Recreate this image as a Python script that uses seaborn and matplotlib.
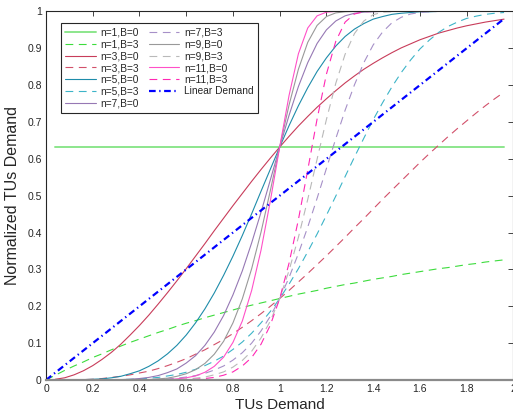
import numpy as np
import matplotlib
matplotlib.use("Agg")
import matplotlib.pyplot as plt
import seaborn as sns

nan = np.nan

# TUs demand grid (x)
x = [0.00, 0.04, 0.08, 0.12, 0.16, 0.20, 0.24, 0.28, 0.32, 0.36,
     0.40, 0.44, 0.48, 0.52, 0.56, 0.60, 0.64, 0.68, 0.72, 0.76,
     0.80, 0.84, 0.88, 0.92, 0.96, 1.00, 1.04, 1.08, 1.12, 1.16,
     1.20, 1.24, 1.28, 1.32, 1.36, 1.40, 1.44, 1.48, 1.52, 1.56,
     1.60, 1.64, 1.68, 1.72, 1.76, 1.80, 1.84, 1.88, 1.92, 1.96]

n1B0 = [nan] + [0.632] * 49
n1B3 = [0.000, 0.013, 0.026, 0.038, 0.049, 0.061, 0.071, 0.082, 0.092, 0.102,
        0.111, 0.120, 0.129, 0.137, 0.146, 0.154, 0.161, 0.169, 0.176, 0.183,
        0.190, 0.197, 0.203, 0.209, 0.215, 0.221, 0.227, 0.233, 0.238, 0.243,
        0.249, 0.254, 0.259, 0.263, 0.268, 0.273, 0.277, 0.281, 0.286, 0.290,
        0.294, 0.298, 0.302, 0.305, 0.309, 0.313, 0.316, 0.320, 0.323, 0.326]
n3B0 = [nan, 0.002, 0.006, 0.014, 0.025, 0.039, 0.056, 0.075, 0.097, 0.122,
        0.148, 0.176, 0.206, 0.237, 0.269, 0.302, 0.336, 0.370, 0.405, 0.439,
        0.473, 0.506, 0.539, 0.571, 0.602, 0.632, 0.661, 0.689, 0.715, 0.740,
        0.763, 0.785, 0.806, 0.825, 0.843, 0.859, 0.874, 0.888, 0.901, 0.912,
        0.923, 0.932, 0.941, 0.948, 0.955, 0.961, 0.966, 0.971, 0.975, 0.979]
n3B3 = [0.000, 0.000, 0.000, 0.001, 0.001, 0.002, 0.004, 0.007, 0.010, 0.014,
        0.019, 0.024, 0.031, 0.039, 0.048, 0.058, 0.070, 0.082, 0.096, 0.110,
        0.126, 0.143, 0.161, 0.180, 0.200, 0.221, 0.243, 0.266, 0.289, 0.313,
        0.337, 0.362, 0.387, 0.413, 0.438, 0.464, 0.490, 0.515, 0.540, 0.565,
        0.590, 0.614, 0.637, 0.660, 0.682, 0.703, 0.724, 0.744, 0.763, 0.781]
n5B0 = [nan, 0.000, 0.000, 0.000, 0.001, 0.002, 0.003, 0.006, 0.010, 0.017,
        0.025, 0.037, 0.052, 0.071, 0.094, 0.122, 0.155, 0.193, 0.236, 0.284,
        0.336, 0.392, 0.451, 0.512, 0.572, 0.632, 0.690, 0.744, 0.793, 0.837,
        0.874, 0.906, 0.932, 0.952, 0.967, 0.979, 0.986, 0.992, 0.995, 0.997,
        0.999, 0.999, 1.000, 1.000, 1.000, 1.000, 1.000, 1.000, 1.000, 1.000]
n5B3 = [0.000, 0.000, 0.000, 0.000, 0.000, 0.000, 0.000, 0.001, 0.001, 0.002,
        0.003, 0.005, 0.007, 0.011, 0.015, 0.021, 0.029, 0.039, 0.051, 0.065,
        0.083, 0.103, 0.127, 0.155, 0.186, 0.221, 0.260, 0.302, 0.348, 0.396,
        0.447, 0.499, 0.552, 0.605, 0.656, 0.706, 0.752, 0.795, 0.834, 0.868,
        0.898, 0.922, 0.943, 0.959, 0.971, 0.981, 0.987, 0.992, 0.995, 0.997]
n7B0 = [nan, 0.000, 0.000, 0.000, 0.000, 0.000, 0.000, 0.000, 0.001, 0.002,
        0.004, 0.007, 0.012, 0.020, 0.030, 0.046, 0.066, 0.094, 0.130, 0.175,
        0.231, 0.296, 0.372, 0.455, 0.543, 0.632, 0.718, 0.796, 0.861, 0.913,
        0.950, 0.974, 0.988, 0.995, 0.998, 0.999, 1.000, 1.000, 1.000, 1.000,
        1.000, 1.000, 1.000, 1.000, 1.000, 1.000, 1.000, 1.000, 1.000, 1.000]
n7B3 = [0.000, 0.000, 0.000, 0.000, 0.000, 0.000, 0.000, 0.000, 0.000, 0.000,
        0.000, 0.001, 0.002, 0.003, 0.005, 0.008, 0.012, 0.018, 0.027, 0.038,
        0.054, 0.074, 0.100, 0.133, 0.173, 0.221, 0.278, 0.343, 0.415, 0.493,
        0.574, 0.655, 0.732, 0.801, 0.861, 0.909, 0.944, 0.969, 0.984, 0.993,
        0.997, 0.999, 1.000, 1.000, 1.000, 1.000, 1.000, 1.000, 1.000, 1.000]
n9B0 = [nan, 0.000, 0.000, 0.000, 0.000, 0.000, 0.000, 0.000, 0.000, 0.000,
        0.001, 0.001, 0.003, 0.005, 0.010, 0.017, 0.028, 0.045, 0.070, 0.105,
        0.155, 0.220, 0.302, 0.401, 0.514, 0.632, 0.746, 0.843, 0.916, 0.962,
        0.986, 0.996, 0.999, 1.000, 1.000, 1.000, 1.000, 1.000, 1.000, 1.000,
        1.000, 1.000, 1.000, 1.000, 1.000, 1.000, 1.000, 1.000, 1.000, 1.000]
n9B3 = [0.000, 0.000, 0.000, 0.000, 0.000, 0.000, 0.000, 0.000, 0.000, 0.000,
        0.000, 0.000, 0.000, 0.001, 0.002, 0.003, 0.005, 0.008, 0.014, 0.022,
        0.035, 0.053, 0.078, 0.114, 0.160, 0.221, 0.297, 0.387, 0.490, 0.599,
        0.707, 0.805, 0.884, 0.940, 0.974, 0.991, 0.998, 0.999, 1.000, 1.000,
        1.000, 1.000, 1.000, 1.000, 1.000, 1.000, 1.000, 1.000, 1.000, 1.000]
n11B0 = [nan, 0.000, 0.000, 0.000, 0.000, 0.000, 0.000, 0.000, 0.000, 0.000,
         0.000, 0.000, 0.000, 0.001, 0.003, 0.006, 0.011, 0.021, 0.037, 0.062,
         0.102, 0.160, 0.243, 0.352, 0.486, 0.632, 0.772, 0.885, 0.955, 0.988,
         0.998, 1.000, 1.000, 1.000, 1.000, 1.000, 1.000, 1.000, 1.000, 1.000,
         1.000, 1.000, 1.000, 1.000, 1.000, 1.000, 1.000, 1.000, 1.000, 1.000]
n11B3 = [0.000, 0.000, 0.000, 0.000, 0.000, 0.000, 0.000, 0.000, 0.000, 0.000,
         0.000, 0.000, 0.000, 0.000, 0.000, 0.001, 0.002, 0.004, 0.007, 0.013,
         0.022, 0.038, 0.061, 0.097, 0.149, 0.221, 0.317, 0.435, 0.570, 0.708,
         0.830, 0.919, 0.971, 0.993, 0.999, 1.000, 1.000, 1.000, 1.000, 1.000,
         1.000, 1.000, 1.000, 1.000, 1.000, 1.000, 1.000, 1.000, 1.000, 1.000]
linear_x = [0.00, 1.96]
linear_y = [0.00, 0.98]

labels = ["n=1,B=0", "n=1,B=3", "n=3,B=0", "n=3,B=3", "n=5,B=0", "n=5,B=3",
          "n=7,B=0", "n=7,B=3", "n=9,B=0", "n=9,B=3", "n=11,B=0", "n=11,B=3",
          "Linear Demand"]
xticks = [0, 0.2, 0.4, 0.6, 0.8, 1, 1.2, 1.4, 1.6, 1.8, 2]
xticklabels = ["0", "0.2", "0.4", "0.6", "0.8", "1", "1.2", "1.4", "1.6", "1.8", "2"]
yticks = [0, 0.1, 0.2, 0.3, 0.4, 0.5, 0.6, 0.7, 0.8, 0.9, 1]
yticklabels = ["0", "0.1", "0.2", "0.3", "0.4", "0.5", "0.6", "0.7", "0.8", "0.9", "1"]

sns.set_style("white")
plt.rcParams['font.family'] = ['Liberation Sans', 'DejaVu Sans']

fig = plt.figure(figsize=(5.13, 4.18), dpi=100)
ax = fig.add_axes([46 / 513, 38 / 418, 467.4 / 513, 368.6 / 418])

DASH = (0, (7, 5))
series = [
    (n1B0, '#8ce68c', '-', 1.4),
    (n1B3, '#3cdc3c', DASH, 0.8),
    (n3B0, '#c83c5a', '-', 0.8),
    (n3B3, '#d2506a', DASH, 0.8),
    (n5B0, '#1e8caa', '-', 0.8),
    (n5B3, '#3cb4c8', DASH, 0.8),
    (n7B0, '#9678b4', '-', 0.8),
    (n7B3, '#a690c8', DASH, 0.8),
    (n9B0, '#999999', '-', 0.8),
    (n9B3, '#b9b9b9', DASH, 0.8),
    (n11B0, '#ff50c8', '-', 0.8),
    (n11B3, '#ff28b4', DASH, 0.8),
]
for lab, (yv, col, ls, lw) in zip(labels[:-1], series):
    sns.lineplot(x=x, y=yv, ax=ax, color=col, linestyle=ls, linewidth=lw,
                 label=lab, estimator=None, errorbar=None, sort=False)
sns.lineplot(x=linear_x, y=linear_y, ax=ax, color='#0000ff',
             linestyle=(0, (3, 1.6, 0.6, 1.6)), linewidth=1.6,
             label=labels[-1], estimator=None, errorbar=None, sort=False)

ax.set_xlim(0, 2)
ax.set_ylim(0, 1)
ax.set_xticks(xticks)
ax.set_xticklabels(xticklabels)
ax.set_yticks(yticks)
ax.set_yticklabels(yticklabels)
ax.tick_params(direction='in', length=3.6, width=0.6, top=True, right=True,
               labelsize=7.5, labelcolor='#262626', color='#262626', pad=3)
ax.set_xlabel("TUs Demand", fontsize=11, color='#262626', labelpad=3)
ax.set_ylabel("Normalized TUs Demand", fontsize=11.5, color='#262626', labelpad=5)

for s in ['left', 'top', 'right']:
    ax.spines[s].set_color('#262626')
    ax.spines[s].set_linewidth(0.8)
ax.spines['bottom'].set_color('#8a8a8a')
ax.spines['bottom'].set_linewidth(1.6)

leg = ax.legend(ncol=2, loc='upper left', bbox_to_anchor=(0.0315, 0.9677),
                borderaxespad=0, fontsize=7.3, frameon=True, fancybox=False,
                framealpha=1, edgecolor='#262626', handlelength=3.0,
                handletextpad=0.5, columnspacing=0.9, labelspacing=0.17,
                borderpad=0.45)
leg.get_frame().set_linewidth(0.8)

fig.savefig("out.png", dpi=100)
